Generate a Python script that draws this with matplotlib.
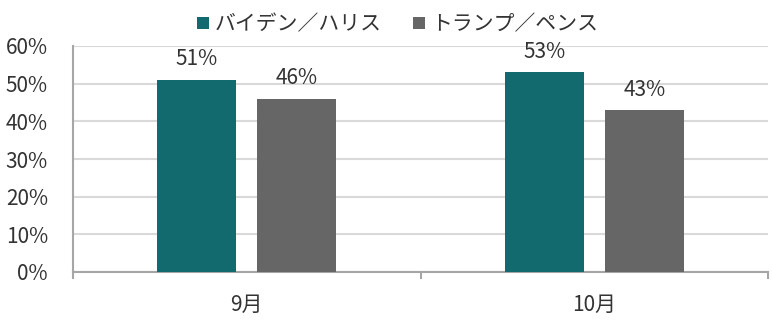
import numpy as np
import matplotlib.pyplot as plt

plt.rcParams['font.family'] = ['Noto Sans CJK JP', 'DejaVu Sans']

months = ['9月', '10月']
series = ['バイデン／ハリス', 'トランプ／ペンス']
biden = [51, 53]
trump = [46, 43]
colors = ['#12696E', '#666666']

fig = plt.figure(figsize=(7.72, 3.23), dpi=100)
ax = fig.add_axes([73/772, 1-272/323, 695/772, 226/323])

x = np.arange(len(months))
w = 0.227
ax.bar(x - 0.144, biden, w, color=colors[0], label=series[0], zorder=3)
ax.bar(x + 0.144, trump, w, color=colors[1], label=series[1], zorder=3)

for xi, v in zip(x - 0.144, biden):
    ax.text(xi, v + 2.5, f'{v}%', ha='center', va='bottom', fontsize=15, color='#333333')
for xi, v in zip(x + 0.144, trump):
    ax.text(xi, v + 2.5, f'{v}%', ha='center', va='bottom', fontsize=15, color='#333333')

ax.set_xlim(-0.5, 1.5)
ax.set_ylim(0, 60)
ax.set_yticks(range(0, 61, 10))
ax.set_yticklabels([f'{t}%' for t in range(0, 61, 10)], fontsize=15, color='#333333')
ax.yaxis.grid(True, color='#d9d9d9', linewidth=1.5, zorder=0)
ax.set_axisbelow(True)

ax.set_xticks(x)
ax.set_xticklabels(months, fontsize=15, color='#333333')
ax.tick_params(axis='x', length=0, pad=16)
ax.tick_params(axis='y', length=0, pad=18)
for xb in [-0.5, 0.5, 1.5]:
    ax.plot([xb, xb], [0, -1.5], color='#a6a6a6', lw=1.5, clip_on=False)

for s in ['top', 'right']:
    ax.spines[s].set_visible(False)
for s in ['left', 'bottom']:
    ax.spines[s].set_color('#a6a6a6')
    ax.spines[s].set_linewidth(1.5)

ax.legend(loc='lower center', bbox_to_anchor=(0.467, 1.0), ncol=2, frameon=False,
          fontsize=15, handlelength=0.55, handleheight=0.55, handletextpad=0.3,
          columnspacing=1.5, borderaxespad=0.1, labelcolor='#333333')

fig.savefig('out.png', dpi=100)
